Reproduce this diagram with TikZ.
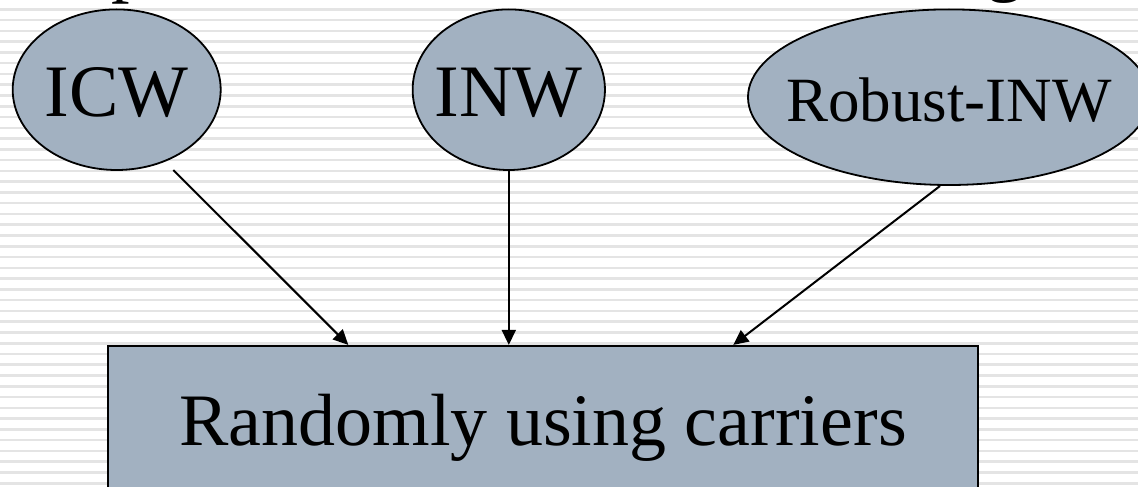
\documentclass[tikz,border=0pt]{standalone}
\usepackage{fontspec}
\setmainfont{Liberation Serif}
\usetikzlibrary{shapes.geometric,arrows.meta}
\definecolor{nodefill}{RGB}{162,177,193}
\definecolor{stripe}{RGB}{228,228,228}
\begin{document}
\begin{tikzpicture}[x=1pt,y=-1pt,
  big/.style={font=\fontsize{74}{80}\selectfont},
  oval/.style={ellipse,draw=black,line width=1.8pt,fill=nodefill,inner sep=0pt,big},
  box/.style={rectangle,draw=black,line width=2.2pt,fill=nodefill,inner sep=0pt,big},
  arr/.style={line width=2pt,-{Triangle[length=15pt,width=14pt]}}]
\useasboundingbox (0,0) rectangle (1138,487);
\clip (0,0) rectangle (1138,487);
% ruled background
\fill[white] (0,0) rectangle (1138,487);
\foreach \k in {0,...,45}
  \draw[stripe,line width=2.6pt] (0,{9.33+10.77*\k}) -- (1138,{9.33+10.77*\k});
% heading line above, only its descenders fall inside the frame
\node[anchor=base west,inner sep=0pt,big] (head-p) at (111,-11) {p};
\node[anchor=base west,inner sep=0pt,big] (head-g) at (986,-12) {g};
% watermarking methods
\node[oval,minimum width=208pt,minimum height=160.6pt,text height=54.6pt,text depth=0pt]
  (icw) at (116.7,89.7) {\makebox[0pt]{ICW}};
\node[oval,minimum width=192.3pt,minimum height=160.6pt,text height=54.6pt,text depth=0pt]
  (inw) at (508.8,89.7) {\makebox[0pt]{INW}};
\node[oval,minimum width=402pt,minimum height=175.6pt,text height=49pt,text depth=0pt,
  font=\fontsize{63}{68}\selectfont]
  (rinw) at (949,97.2) {\makebox[0pt]{Robust-INW}};
% carrier selection
\node[box,minimum width=869.4pt,minimum height=165pt,text height=50.5pt,text depth=16pt]
  (rand) at (543,428.5) {Randomly using carriers};
% connectors
\coordinate (icw-tail) at (173.3,170);
\coordinate (rinw-tail) at (940,186);
\draw[arr] (icw-tail) -- (348.3,0 |- rand.north);
\draw[arr] (inw.south) -- (inw.south |- rand.north);
\draw[arr] (rinw-tail) -- (733.3,0 |- rand.north);
\end{tikzpicture}
\end{document}
